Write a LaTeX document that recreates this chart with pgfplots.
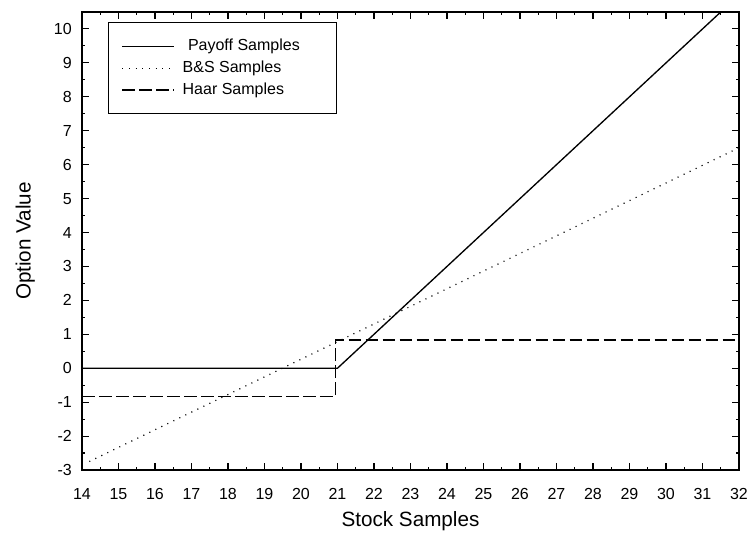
\documentclass[border=0pt]{standalone}
\usepackage{fontspec}
\setmainfont{Liberation Sans}
\usepackage{pgfplots}
\pgfplotsset{compat=1.18}
\begin{document}
\begin{tikzpicture}
\useasboundingbox (-61.5pt,-53.25pt) rectangle (498.75pt,352.5pt);
\begin{axis}[
  at={(0pt,0pt)}, anchor=south west,
  scale only axis,
  width=492.75pt, height=343.5pt,
  xmin=14, xmax=32, ymin=-3, ymax=10.5,
  xtick={14,15,...,32},
  ytick={-3,-2,...,10},
  minor x tick num=1, minor y tick num=1,
  tick align=inside,
  major tick length=5pt, minor tick length=2.5pt,
  axis line style={line width=1.1pt},
  every tick/.style={black, line width=0.8pt},
  /pgf/number format/assume math mode=true,
  tick label style={font=\fontsize{12}{14}\selectfont},
  xticklabel style={anchor=north, inner sep=0pt, yshift=-13.5pt},
  yticklabel style={anchor=east, inner sep=0pt, xshift=-7.5pt},
  xlabel={Stock Samples},
  ylabel={Option Value},
  label style={font=\fontsize{15.5}{18}\selectfont},
  xlabel style={at={([yshift=-42.75pt]axis description cs:0.5,0)}, anchor=base},
  ylabel style={at={([xshift=-38.5pt]axis description cs:0,0.5)}, anchor=base, rotate=0},
  legend cell align=left,
  legend image code/.code={\draw[#1] (0pt,0pt) -- (39pt,0pt);},
  legend style={at={(0.0396,0.978)}, anchor=north west,
    font=\fontsize{12}{14}\selectfont, draw=black, line width=1pt,
    inner xsep=9.75pt, inner ysep=10.5pt, row sep=2.25pt,
    /tikz/every odd column/.append style={column sep=3.75pt}},
]
\addplot[black, line width=1pt] coordinates {(14,0) (21,0) (32,11)};
\addlegendentry{\makebox[103.5pt][l]{\hspace{4pt}Payoff Samples}}
\addplot[black, line width=0.9pt, dash pattern=on 0.8pt off 4.2pt] coordinates {(14.2,-2.75) (32,6.5)};
\addlegendentry{B\&S Samples}
\addplot[black, line width=0.9pt, dash pattern=on 9.5pt off 3.25pt] coordinates {(14,-0.83) (20.95,-0.83) (20.95,0.83) (32,0.83)};
\addlegendentry{Haar Samples}
\end{axis}
\end{tikzpicture}
\end{document}
